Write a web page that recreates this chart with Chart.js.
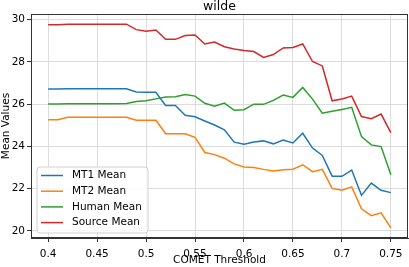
<!DOCTYPE html>
<html>
<head>
<meta charset="utf-8">
<script src="https://cdn.jsdelivr.net/npm/chart.js@4"></script>
<style>
  html, body { margin: 0; padding: 0; background: #fff; }
  #wrap { width: 409px; height: 267px; }
</style>
</head>
<body>
<div id="wrap"><canvas id="chart" width="409" height="267"></canvas></div>
<script>
const thresholds = [
  0.40, 0.41, 0.42, 0.43, 0.44, 0.45, 0.46, 0.47, 0.48, 0.49,
  0.50, 0.51, 0.52, 0.53, 0.54, 0.55, 0.56, 0.57, 0.58, 0.59,
  0.60, 0.61, 0.62, 0.63, 0.64, 0.65, 0.66, 0.67, 0.68, 0.69,
  0.70, 0.71, 0.72, 0.73, 0.74, 0.75,
];

const mt1 = [
  26.72, 26.72, 26.73, 26.73, 26.73, 26.73, 26.73, 26.73, 26.73, 26.58,
  26.56, 26.56, 25.94, 25.94, 25.47, 25.40, 25.20, 25.01, 24.78, 24.20,
  24.10, 24.21, 24.26, 24.12, 24.30, 24.16, 24.62, 23.92, 23.57, 22.59,
  22.58, 22.88, 21.68, 22.26, 21.92, 21.81,
];

const mt2 = [
  25.26, 25.26, 25.38, 25.38, 25.38, 25.38, 25.38, 25.38, 25.38, 25.24,
  25.24, 25.24, 24.60, 24.60, 24.60, 24.43, 23.71, 23.61, 23.44, 23.17,
  23.02, 23.00, 22.91, 22.83, 22.89, 22.92, 23.13, 22.80, 22.91, 22.01,
  21.92, 22.08, 21.04, 20.72, 20.85, 20.14,
];

const human = [
  26.01, 26.01, 26.02, 26.02, 26.02, 26.02, 26.02, 26.02, 26.03, 26.13,
  26.16, 26.25, 26.34, 26.35, 26.46, 26.38, 26.04, 25.90, 26.05, 25.71,
  25.74, 26.00, 25.99, 26.18, 26.43, 26.32, 26.79, 26.24, 25.57, 25.66,
  25.75, 25.85, 24.46, 24.07, 23.99, 22.66,
];

const source = [
  29.76, 29.76, 29.79, 29.79, 29.79, 29.79, 29.79, 29.79, 29.79, 29.53,
  29.45, 29.51, 29.07, 29.07, 29.25, 29.28, 28.85, 28.94, 28.72, 28.61,
  28.54, 28.49, 28.21, 28.35, 28.66, 28.68, 28.85, 28.02, 27.81, 26.16,
  26.24, 26.38, 25.41, 25.31, 25.53, 24.65,
];

const xTicks = [0.4, 0.45, 0.5, 0.55, 0.6, 0.65, 0.7, 0.75];
const xTickLabels = ["0.4", "0.45", "0.5", "0.55", "0.6", "0.65", "0.7", "0.75"];
const yTicks = [20, 22, 24, 26, 28, 30];
const yTickLabels = ["20", "22", "24", "26", "28", "30"];

const seriesNames = ["MT1 Mean", "MT2 Mean", "Human Mean", "Source Mean"];
const seriesColors = ["#1f77b4", "#ff7f0e", "#2ca02c", "#d62728"];

const FONT = "'DejaVu Sans', sans-serif";
const tickFont = { family: FONT, size: 10.5 };

const toPoints = (vals) => thresholds.map((t, i) => ({ x: t, y: vals[i] }));

// frame, title above the axes and a matplotlib-like legend box
const extras = {
  id: "extras",
  afterDatasetsDraw(chart) {
    const { ctx, chartArea: a } = chart;
    ctx.save();
    ctx.strokeStyle = "#333";
    ctx.lineWidth = 1;
    ctx.strokeRect(a.left + 0.5, a.top + 0.5, a.right - a.left - 1, a.bottom - a.top - 1);

    ctx.fillStyle = "#000";
    ctx.font = "12.5px " + FONT;
    ctx.textAlign = "center";
    ctx.textBaseline = "middle";
    ctx.fillText("wilde", (a.left + a.right) / 2, 7);

    // legend
    const bx = 37, by = 167, bw = 111, bh = 66, r = 3;
    ctx.beginPath();
    ctx.moveTo(bx + r, by);
    ctx.arcTo(bx + bw, by, bx + bw, by + bh, r);
    ctx.arcTo(bx + bw, by + bh, bx, by + bh, r);
    ctx.arcTo(bx, by + bh, bx, by, r);
    ctx.arcTo(bx, by, bx + bw, by, r);
    ctx.closePath();
    ctx.fillStyle = "rgba(255,255,255,0.8)";
    ctx.fill();
    ctx.strokeStyle = "#d0d0d0";
    ctx.stroke();

    ctx.font = "10.5px " + FONT;
    ctx.textAlign = "left";
    chart.data.datasets.forEach((ds, i) => {
      const y = 175.5 + i * 15.7;
      ctx.strokeStyle = ds.borderColor;
      ctx.lineWidth = 1.5;
      ctx.beginPath();
      ctx.moveTo(41, y);
      ctx.lineTo(63, y);
      ctx.stroke();
      ctx.fillStyle = "#000";
      ctx.fillText(ds.label, 72, y);
    });
    ctx.restore();
  },
};

new Chart(document.getElementById("chart"), {
  type: "line",
  data: {
    datasets: [mt1, mt2, human, source].map((vals, i) => ({
      label: seriesNames[i],
      data: toPoints(vals),
      borderColor: seriesColors[i],
      backgroundColor: seriesColors[i],
      borderWidth: 1.5,
      pointRadius: 0,
      tension: 0,
      fill: false,
    })),
  },
  options: {
    responsive: false,
    animation: false,
    layout: { padding: { top: 14, right: 1, left: 0, bottom: 0 } },
    plugins: {
      legend: { display: false },
      tooltip: { enabled: false },
      title: { display: false },
    },
    scales: {
      x: {
        type: "linear",
        min: 0.3825,
        max: 0.7675,
        afterBuildTicks: (s) => { s.ticks = xTicks.map((v) => ({ value: v })); },
        afterFit: (s) => { s.height = 29; },
        ticks: {
          autoSkip: false,
          maxRotation: 0,
          padding: 6,
          color: "#000",
          font: tickFont,
          callback: (v, i) => xTickLabels[i],
        },
        grid: { color: "#dcdcdc", tickColor: "#333", tickLength: 4 },
        border: { color: "#333", width: 1 },
        title: {
          display: true,
          text: "COMET Threshold",
          color: "#000",
          font: tickFont,
          padding: { top: 0, bottom: 0 },
        },
      },
      y: {
        type: "linear",
        min: 19.66,
        max: 30.27,
        afterBuildTicks: (s) => { s.ticks = yTicks.map((v) => ({ value: v })); },
        afterFit: (s) => { s.width = 31; },
        ticks: {
          padding: 2,
          color: "#000",
          font: tickFont,
          callback: (v, i) => yTickLabels[i],
        },
        grid: { color: "#dcdcdc", tickColor: "#333", tickLength: 4 },
        border: { color: "#333", width: 1 },
        title: {
          display: true,
          text: "Mean Values",
          color: "#000",
          font: tickFont,
          padding: { top: 0, bottom: 0 },
        },
      },
    },
  },
  plugins: [extras],
});
</script>
</body>
</html>
